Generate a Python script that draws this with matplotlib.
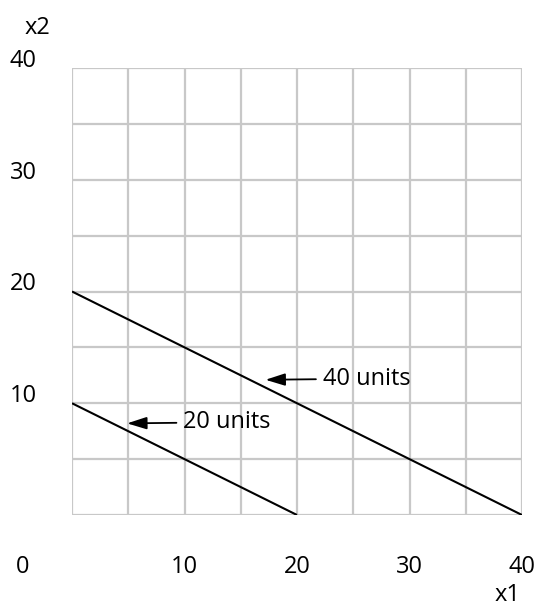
import matplotlib.pyplot as plt
import numpy as np

plt.rcParams['font.family'] = ['Open Sans', 'DejaVu Sans']

# iso-cost lines: x1 + 2*x2 = const
line40_x = [0, 40]
line40_y = [20, 0]
line20_x = [0, 20]
line20_y = [10, 0]

x_ticks = [10, 20, 30, 40]
y_ticks = [10, 20, 30, 40]

fig = plt.figure(figsize=(5.38, 6.07), dpi=100)
ax = fig.add_axes([72 / 538, 1 - 515 / 607, 450 / 538, 447 / 607])

ax.set_xlim(0, 40)
ax.set_ylim(0, 40)
for v in np.arange(0, 41, 5):
    ax.axvline(v, color='#c8c8c8', lw=1.6, zorder=1)
    ax.axhline(v, color='#c8c8c8', lw=1.6, zorder=1)
for s in ax.spines.values():
    s.set_visible(False)
ax.set_xticks([])
ax.set_yticks([])

ax.plot(line40_x, line40_y, color='black', lw=1.5, zorder=3, solid_capstyle='butt')
ax.plot(line20_x, line20_y, color='black', lw=1.5, zorder=3, solid_capstyle='butt')

fs = 17
for t in x_ticks:
    ax.text(t, -3.6, str(t), ha='center', va='top', fontsize=fs, clip_on=False)
for t in y_ticks:
    ax.text(-4.36, t + 0.1, str(t), ha='center', va='baseline', fontsize=fs, clip_on=False)
ax.text(-4.36, -3.6, '0', ha='center', va='top', fontsize=fs, clip_on=False)
ax.text(-3.1, 43.6, 'x2', ha='center', va='center', fontsize=fs, clip_on=False)
ax.text(38.75, -7.15, 'x1', ha='center', va='center', fontsize=fs, clip_on=False)

arrow = dict(arrowstyle='-|>,head_length=0.7,head_width=0.22', color='black',
             lw=1.3, shrinkA=3, shrinkB=0)
ax.annotate('40 units', xy=(17.2, 12.1), xytext=(22.3, 12.2),
            ha='left', va='center', fontsize=fs, arrowprops=arrow)
ax.annotate('20 units', xy=(4.9, 8.2), xytext=(9.9, 8.3),
            ha='left', va='center', fontsize=fs, arrowprops=arrow)

fig.savefig('out.png', dpi=100)
